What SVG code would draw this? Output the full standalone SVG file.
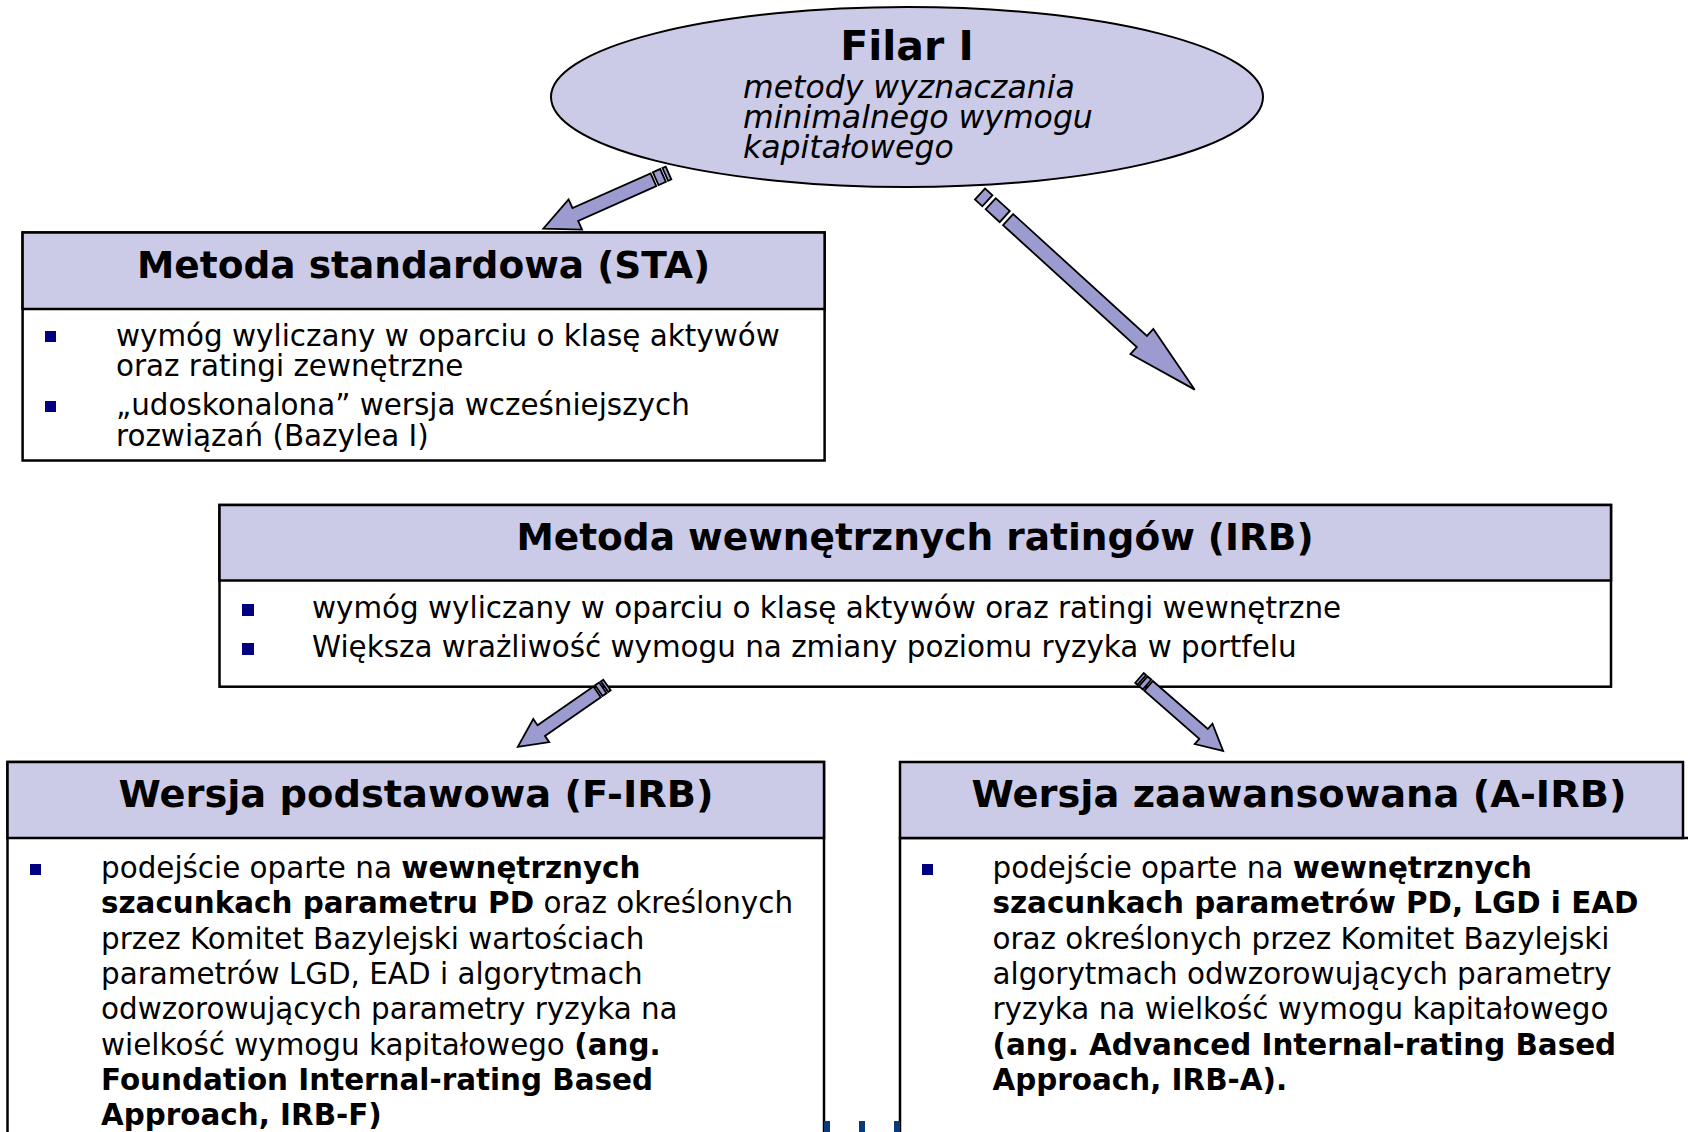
<svg xmlns="http://www.w3.org/2000/svg" width="1688" height="1132" viewBox="0 0 1688 1132">
  <style>
    text { font-family: "DejaVu Sans", Verdana, sans-serif; fill: #000; }
    .head { font-size: 37.5px; font-weight: bold; text-anchor: middle; }
    .body { font-size: 29.4px; }
    .b { font-weight: bold; }
    .box { fill: #fff; stroke: #000; stroke-width: 2.5; }
    .hdr { fill: #cbcbe7; stroke: #000; stroke-width: 2.5; }
    .bullet { fill: #000080; }
    .arrow { fill: #9b9bcf; stroke: #000; stroke-width: 1.8; stroke-linejoin: miter; }
  </style>

  <rect width="1688" height="1132" fill="#fff"/>

  <!-- Pillar I ellipse -->
  <g id="filar">
    <ellipse cx="907" cy="97" rx="356" ry="90" fill="#cbcbe7" stroke="#000" stroke-width="2"/>
    <text x="907" y="60" font-size="41" font-weight="bold" text-anchor="middle">Filar I</text>
    <g font-size="31.5" font-style="italic">
      <text x="743" y="98">metody wyznaczania</text>
      <text x="743" y="128">minimalnego wymogu</text>
      <text x="743" y="158">kapitałowego</text>
    </g>
  </g>

  <!-- Standardised approach -->
  <g id="sta">
    <rect class="box" x="22.6" y="232.5" width="802" height="228"/>
    <rect class="hdr" x="22.6" y="232.5" width="802" height="76.5"/>
    <text class="head" x="423.6" y="278">Metoda standardowa (STA)</text>
    <rect class="bullet" x="45" y="331" width="11" height="11"/>
    <rect class="bullet" x="45" y="401" width="11" height="11"/>
    <g class="body">
      <text x="116" y="346">wymóg wyliczany w oparciu o klasę aktywów</text>
      <text x="116" y="376">oraz ratingi zewnętrzne</text>
      <text x="116" y="415">„udoskonalona” wersja wcześniejszych</text>
      <text x="116" y="446">rozwiązań (Bazylea I)</text>
    </g>
  </g>

  <!-- Internal ratings based approach -->
  <g id="irb">
    <rect class="box" x="219.5" y="505" width="1391.5" height="181.7"/>
    <rect class="hdr" x="219.5" y="505" width="1391.5" height="75.5"/>
    <text class="head" x="915" y="550">Metoda wewnętrznych ratingów (IRB)</text>
    <rect class="bullet" x="242" y="604" width="12" height="12"/>
    <rect class="bullet" x="242" y="643" width="12" height="12"/>
    <g class="body">
      <text x="312" y="618">wymóg wyliczany w oparciu o klasę aktywów oraz ratingi wewnętrzne</text>
      <text x="312" y="657">Większa wrażliwość wymogu na zmiany poziomu ryzyka w portfelu</text>
    </g>
  </g>

  <!-- Foundation IRB -->
  <g id="firb">
    <rect class="box" x="7.5" y="762" width="816.5" height="420"/>
    <rect class="hdr" x="7.5" y="762" width="816.5" height="76"/>
    <text class="head" x="416" y="807" textLength="595" lengthAdjust="spacingAndGlyphs">Wersja podstawowa (F-IRB)</text>
    <rect class="bullet" x="30" y="864" width="11" height="11"/>
    <g class="body">
      <text x="101" y="878">podejście oparte na <tspan class="b">wewnętrznych</tspan></text>
      <text x="101" y="913.3"><tspan class="b">szacunkach parametru PD</tspan> oraz określonych</text>
      <text x="101" y="948.6">przez Komitet Bazylejski wartościach</text>
      <text x="101" y="983.9">parametrów LGD, EAD i algorytmach</text>
      <text x="101" y="1019.2">odwzorowujących parametry ryzyka na</text>
      <text x="101" y="1054.5">wielkość wymogu kapitałowego <tspan class="b">(ang.</tspan></text>
      <text x="101" y="1089.8" class="b">Foundation Internal-rating Based</text>
      <text x="101" y="1125.1" class="b">Approach, IRB-F)</text>
    </g>
  </g>

  <!-- Advanced IRB -->
  <g id="airb">
    <rect class="box" x="900" y="838" width="820" height="400"/>
    <rect class="hdr" x="900" y="762" width="783" height="76"/>
    <text class="head" x="1299" y="807" textLength="655" lengthAdjust="spacingAndGlyphs">Wersja zaawansowana (A-IRB)</text>
    <rect class="bullet" x="922" y="864" width="11" height="11"/>
    <g class="body">
      <text x="992.5" y="878">podejście oparte na <tspan class="b">wewnętrznych</tspan></text>
      <text x="992.5" y="913.3" class="b">szacunkach parametrów PD, LGD i EAD</text>
      <text x="992.5" y="948.6">oraz określonych przez Komitet Bazylejski</text>
      <text x="992.5" y="983.9">algorytmach odwzorowujących parametry</text>
      <text x="992.5" y="1019.2">ryzyka na wielkość wymogu kapitałowego</text>
      <text x="992.5" y="1054.5" class="b">(ang. Advanced Internal-rating Based</text>
      <text x="992.5" y="1089.8" class="b">Approach, IRB-A).</text>
    </g>
  </g>

  <!-- small bars peeking out at the bottom edge -->
  <g id="bottom-bars" fill="#0a3a7a">
    <rect x="824" y="1121" width="6" height="11"/>
    <rect x="859" y="1121" width="6" height="11"/>
    <rect x="894" y="1121" width="6" height="11"/>
  </g>

  <!-- Striped block arrows; each drawn along +x from its tail, then placed -->
  <g id="connectors" class="arrow">
    <!-- Filar I -> STA -->
    <g transform="translate(668.5,173) rotate(156)">
      <rect x="0" y="-7" width="3.5" height="14"/>
      <rect x="6" y="-7" width="8" height="14"/>
      <path d="M16.5,-7 L102,-7 L102,-16.5 L137,0 L102,16.5 L102,7 L16.5,7 Z"/>
    </g>
    <!-- Filar I -> IRB -->
    <g transform="translate(980,194) rotate(42.34)">
      <rect x="0" y="-7.5" width="10" height="15"/>
      <rect x="14.5" y="-7.5" width="19" height="15"/>
      <path d="M38,-7.5 L219,-7.5 L219,-17 L290.5,0 L219,17 L219,7.5 L38,7.5 Z"/>
    </g>
    <!-- IRB -> F-IRB -->
    <g transform="translate(607,685) rotate(145.3)">
      <rect x="0" y="-6.5" width="3" height="13"/>
      <rect x="5" y="-6.5" width="5" height="13"/>
      <path d="M12,-6.5 L80,-6.5 L80,-14 L108.5,0 L80,14 L80,6.5 L12,6.5 Z"/>
    </g>
    <!-- IRB -> A-IRB -->
    <g transform="translate(1139.5,678) rotate(41.1)">
      <rect x="0" y="-6.5" width="3" height="13"/>
      <rect x="5" y="-6.5" width="5" height="13"/>
      <path d="M12,-6.5 L85,-6.5 L85,-13.5 L111,0 L85,13.5 L85,6.5 L12,6.5 Z"/>
    </g>
  </g>
</svg>
